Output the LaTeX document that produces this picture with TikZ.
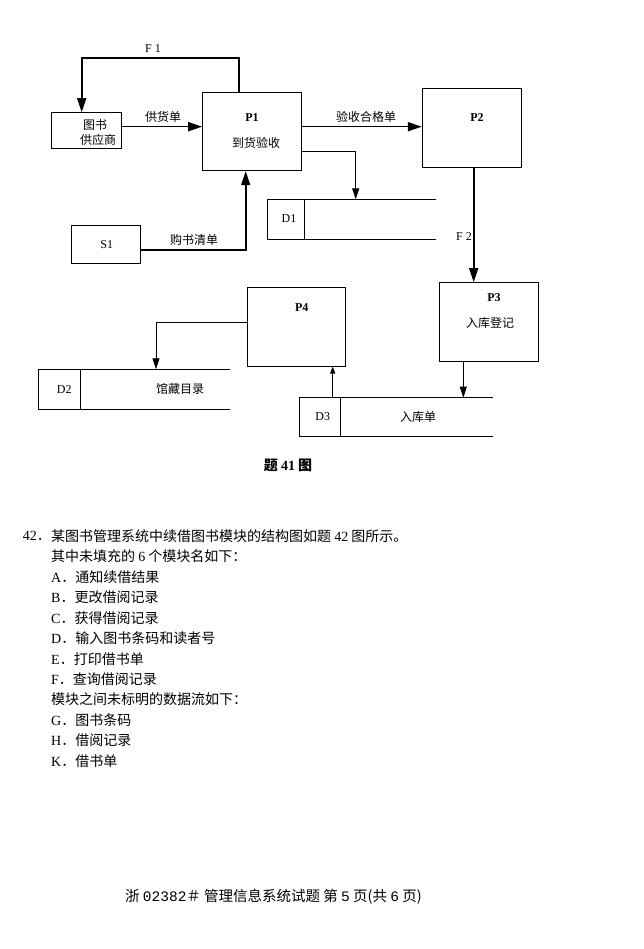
\documentclass[tikz,border=0pt]{standalone}
\usepackage{fontspec}
\setmainfont{Liberation Serif}
\newfontfamily\cjk{Noto Sans CJK SC}
\newfontfamily\mono{Liberation Mono}
\usetikzlibrary{arrows.meta}
\newcommand\lat[1]{{\rmfamily #1}}
\tikzset{
  box/.style={draw, line width=1pt, inner sep=0pt},
  thk/.style={line width=1.6pt, -{Triangle[length=14pt,width=9pt]}},
  thn/.style={line width=0.8pt, -{Triangle[length=11pt,width=7pt]}},
  thnsmall/.style={line width=0.8pt, -{Triangle[length=7pt,width=5pt]}},
  store/.style={line width=0.9pt},
  lbl/.style={inner sep=0pt, font=\fontsize{12}{14}\selectfont},
  zh/.style={inner sep=0pt, font=\cjk\fontsize{12}{14}\selectfont},
  pid/.style={inner sep=0pt, font=\bfseries\fontsize{12}{14}\selectfont},
  txt/.style={anchor=west, inner sep=0pt, font=\cjk\fontsize{14}{16}\selectfont},
}
\begin{document}
\begin{tikzpicture}[x=1pt,y=-1pt]
\path[use as bounding box, fill=white] (0,0) rectangle (643,949);

% process boxes
\node[box, minimum width=69.3pt, minimum height=36.3pt] (sup) at (86.35,130.85) {};
\node[box, minimum width=99pt, minimum height=78.4pt] (p1) at (252.2,131.5) {};
\node[box, minimum width=99.4pt, minimum height=78.3pt] (p2) at (472,128.15) {};
\node[box, minimum width=69pt, minimum height=37.6pt] (s1) at (105.5,244.5) {};
\node[box, minimum width=99.4pt, minimum height=79pt] (p3) at (489,322.2) {};
\node[box, minimum width=97.7pt, minimum height=79pt] (p4) at (296.15,326.5) {};

% data stores
\coordinate (d1nw) at (267.7,199.3);
\draw[store] (436,199.3) -- (267.7,199.3) -- (267.7,239) -- (436,239);
\draw[store] (304.3,199.3) -- (304.3,239);
\coordinate (d2nw) at (38.3,369.3);
\draw[store] (230,369.3) -- (38.3,369.3) -- (38.3,409) -- (230,409);
\draw[store] (80.7,369.3) -- (80.7,409);
\coordinate (d3nw) at (299.3,397.7);
\draw[store] (493.3,397.7) -- (299.3,397.7) -- (299.3,436.7) -- (493.3,436.7);
\draw[store] (340.7,397.7) -- (340.7,436.7);

% texts in boxes
\node[zh] (supa) at (95,125) {图书};
\node[zh] (supb) at (98,140) {供应商};
\node[pid] (p1id) at (252,118) {P1};
\node[zh] (p1t) at (256,143) {到货验收};
\node[pid] (p2id) at (477,117.7) {P2};
\node[pid] (p3id) at (494,298) {P3};
\node[zh] (p3t) at (490,323) {入库登记};
\node[pid] (p4id) at (301.7,307.3) {P4};
\node[lbl] (s1id) at (106.7,245) {S1};
\node[lbl] (d1id) at (289,219) {D1};
\node[lbl] (d2id) at (64.3,389.3) {D2};
\node[zh] (d2t) at (180,389) {馆藏目录};
\node[lbl] (d3id) at (322.7,416.7) {D3};
\node[zh] (d3t) at (418,416.7) {入库单};

% connectors
\coordinate (f1a) at (239,58);
\coordinate (f1b) at (81.7,58);
\draw[thk] (p1.north -| f1a) -- (f1a) -- (f1b) -- (f1b |- sup.north);
\node[lbl] (f1l) at (153,49) {F 1};

\coordinate (gy) at (160,126.7);
\draw[thk] (sup.east |- gy) -- (p1.west |- gy);
\node[zh] (gyl) at (163,117) {供货单};

\coordinate (yy) at (360,126.7);
\draw[thk] (p1.east |- yy) -- (p2.west |- yy);
\node[zh] (yyl) at (366,116.7) {验收合格单};

\coordinate (d1a) at (355.7,151.7);
\draw[thn] (p1.east |- d1a) -- (d1a) -- (d1a |- d1nw);

\coordinate (f2x) at (473.7,220);
\draw[thk] (p2.south -| f2x) -- (p3.north -| f2x);
\node[lbl] (f2l) at (464,236.7) {F 2};

\coordinate (gs) at (245.7,250.3);
\draw[thk] (s1.east |- gs) -- (gs) -- (p1.south -| gs);
\node[zh] (gsl) at (194,240) {购书清单};

\coordinate (p3d) at (463.3,380);
\draw[thn] (p3.south -| p3d) -- (p3d |- d3nw);

\coordinate (d3p) at (332.7,380);
\draw[thnsmall] (d3p |- d3nw) -- (p4.south -| d3p);

\coordinate (p4d) at (156,322.3);
\draw[thn] (p4.west |- p4d) -- (p4d) -- (p4d |- d2nw);

% caption
\node[inner sep=0pt, font=\cjk\bfseries\fontsize{14}{16}\selectfont] (cap) at (288,465) {题 {\rmfamily\bfseries 41} 图};

% question text
\node[txt] (t0) at (51,536) {某图书管理系统中续借图书模块的结构图如题 \lat{42} 图所示。};
\node[txt, anchor=east] (t0n) at (t0.west) {\lat{42}．};
\node[txt] (t1) at (51,556.45) {其中未填充的 \lat{6} 个模块名如下：};
\node[txt] (t2) at (51,576.9) {\lat{A}．通知续借结果};
\node[txt] (t3) at (51,597.35) {\lat{B}．更改借阅记录};
\node[txt] (t4) at (51,617.8) {\lat{C}．获得借阅记录};
\node[txt] (t5) at (51,638.25) {\lat{D}．输入图书条码和读者号};
\node[txt] (t6) at (51,658.7) {\lat{E}．打印借书单};
\node[txt] (t7) at (51,679.15) {\lat{F}．查询借阅记录};
\node[txt] (t8) at (51,699.6) {模块之间未标明的数据流如下：};
\node[txt] (t9) at (51,720.05) {\lat{G}．图书条码};
\node[txt] (t10) at (51,740.5) {\lat{H}．借阅记录};
\node[txt] (t11) at (51,760.95) {\lat{K}．借书单};

% footer
\node[anchor=west, inner sep=0pt, font=\cjk\fontsize{14.5}{16}\selectfont] (foot) at (125,897) {浙 {\mono 02382}＃ 管理信息系统试题 第 {\mono 5} 页(共 {\mono 6} 页)};
\end{tikzpicture}
\end{document}
